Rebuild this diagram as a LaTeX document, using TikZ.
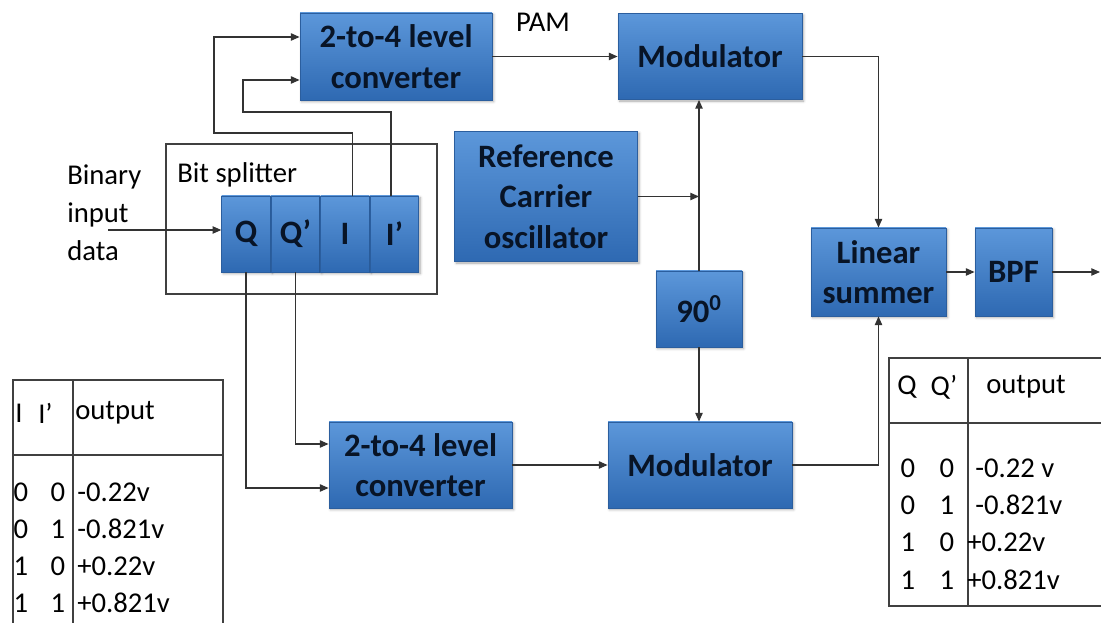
\documentclass[tikz,border=0pt]{standalone}
\usepackage{fontspec}
\setmainfont{Carlito}
\usetikzlibrary{arrows.meta,positioning,shadows.blur,calc}
\definecolor{boxtop}{HTML}{5C97DA}
\definecolor{boxbot}{HTML}{2E69B2}
\definecolor{boxedge}{HTML}{2B5E9E}
\definecolor{ink}{HTML}{081426}
\colorlet{wirecol}{black!80}
\newcommand{\BoxFont}{\fontsize{24.5}{30.5}\selectfont\bfseries}
\newcommand{\LabelFont}{\fontsize{21.5}{28.5}\selectfont}

\begin{document}
\begin{tikzpicture}[
  x=0.75pt, y=-0.75pt,
  block/.style={
    rectangle, draw=boxedge, line width=0.6pt,
    top color=boxtop, bottom color=boxbot,
    text=ink, font=\BoxFont, align=center, inner sep=0pt,
    blur shadow={shadow xshift=1.2pt, shadow yshift=-1.2pt, shadow blur steps=4, shadow opacity=35}
  },
  cell/.style={block, minimum width=36.5pt, minimum height=57pt},
  arr/.style={-{Triangle[length=6.5pt,width=5.5pt]}, line width=0.9pt, draw=wirecol},
  frame/.style={draw=black!75, line width=0.9pt},
  label/.style={font=\LabelFont, inner sep=0pt, text=black},
  tabtext/.style={font=\LabelFont, inner sep=0pt, text=black}
]
\useasboundingbox (0,0) rectangle (1101,623);

% ---------- Bit splitter ----------
\node[frame, inner sep=0pt, minimum width=203.25pt, minimum height=112.5pt] (split) at (301.5,219) {};
\node[label, anchor=west] (splitlbl) at (177,175) {Bit splitter};
\node[cell] (Q) at (246,234) {Q};
\node[cell, right=0pt of Q] (Qp) {Q’};
\node[cell, right=0pt of Qp] (I) {I};
\node[cell, right=0pt of I] (Ip) {I’};
\node[label, anchor=west, align=left] (bin) at (67,213) {Binary\\input\\data};
\coordinate (binin) at (108,230);

% ---------- Blocks ----------
\node[block, minimum width=144pt, minimum height=65.25pt] (conv1) at (396,56.5) {2-to-4 level\\converter};
\node[block, minimum width=138pt, minimum height=64.5pt] (mod1) at (710,56.5) {Modulator};
\node[label] (pam) at (543,22) {PAM};
\node[block, minimum width=137.25pt, minimum height=97.5pt] (ref) at (546,196.5) {Reference\\Carrier\\oscillator};
\node[block, minimum width=64.5pt, minimum height=57pt] (deg90) at (699,309) {90\textsuperscript{0}};
\node[block, minimum width=137.25pt, minimum height=64.5pt] (conv2) at (420.5,465) {2-to-4 level\\converter};
\node[block, minimum width=138pt, minimum height=64.5pt] (mod2) at (700,465) {Modulator};
\node[block, minimum width=101.25pt, minimum height=66pt] (summer) at (878.5,272) {Linear\\summer};
\node[block, minimum width=57.75pt, minimum height=66pt] (bpf) at (1013.5,272) {BPF};
\coordinate (out) at (1100,272);

% ---------- Connectors ----------
\coordinate (c1a) at ($(conv1.west)+(0,-19.5)$);
\coordinate (c1b) at ($(conv1.west)+(0,23.5)$);
\coordinate (c2a) at ($(conv2.west)+(0,-21)$);
\coordinate (c2b) at ($(conv2.west)+(0,23)$);
\draw[arr] (binin) -- (binin -| Q.west);
\draw[arr] ([xshift=5.6pt]I.north) |- (214,133) |- (c1a);
\draw[arr] ([xshift=-2.6pt]Ip.north) |- (243,112) |- (c1b);
\draw[arr] (Qp.south) |- (c2a);
\draw[arr] (Q.south) |- (c2b);
\draw[arr] (conv1.east) -- (mod1.west);
\draw[arr] (conv2.east) -- (mod2.west);
\draw[arr] (ref.east) -- (ref.east -| deg90.north);
\draw[arr] (deg90.north) -- (deg90.north |- mod1.south);
\draw[arr] (deg90.south) -- (deg90.south |- mod2.north);
\draw[arr] (mod1.east) -| (summer.north);
\draw[arr] (mod2.east) -| (summer.south);
\draw[arr] (summer.east) -- (bpf.west);
\draw[arr] (bpf.east) -- (out);

% ---------- Table for I, I' ----------
\draw[frame] (13,380) rectangle (223,650);
\draw[frame] (13,455) -- (223,455);
\draw[frame] (73,380) -- (73,650);
\node[tabtext, anchor=west] (lhI) at (15,413) {I};
\node[tabtext, anchor=west] (lhIp) at (38,413) {I’};
\node[tabtext, anchor=west] (lhout) at (75,413) {output};
\foreach \a/\b/\v [count=\k] in {0/0/-0.22v, 0/1/-0.821v, 1/0/+0.22v, 1/1/+0.821v}{
  \node[tabtext] (la\k) at (21,{492+37*(\k-1)}) {\a};
  \node[tabtext] (lb\k) at (58,{492+37*(\k-1)}) {\b};
  \node[tabtext, anchor=west] (lv\k) at (77,{492+37*(\k-1)}) {\v};
}

% ---------- Table for Q, Q' ----------
\draw[frame] (889,358) rectangle (1120,606);
\draw[frame] (889,423) -- (1120,423);
\draw[frame] (968,358) -- (968,606);
\node[tabtext] (rhQ) at (907,387) {Q};
\node[tabtext] (rhQp) at (944,387) {Q’};
\node[tabtext, anchor=west] (rhout) at (986,387) {output};
\foreach \a/\b/\v/\x [count=\k] in {0/0/-0.22 v/975, 0/1/-0.821v/975, 1/0/+0.22v/967, 1/1/+0.821v/967}{
  \node[tabtext] (ra\k) at (908,{468+37.3*(\k-1)}) {\a};
  \node[tabtext] (rb\k) at (947,{468+37.3*(\k-1)}) {\b};
  \node[tabtext, anchor=west] (rv\k) at (\x,{468+37.3*(\k-1)}) {\v};
}

\end{tikzpicture}
\end{document}
